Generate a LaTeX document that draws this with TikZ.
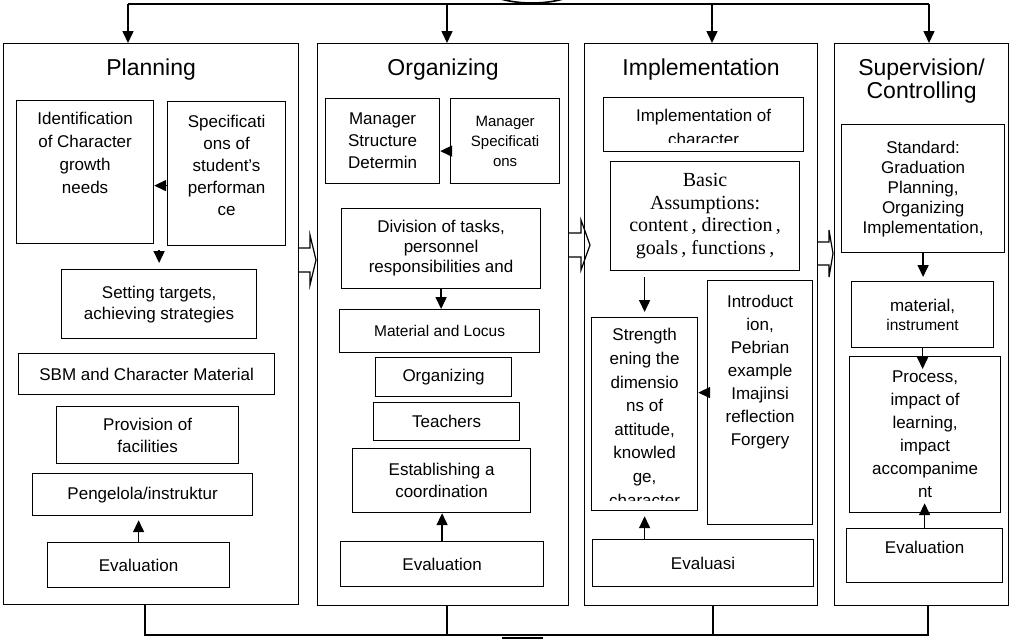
\documentclass[tikz,border=0pt]{standalone}
\usepackage{fontspec}
\setmainfont{Liberation Sans}
\newfontfamily\timesfont{Liberation Serif}
\usetikzlibrary{positioning,calc,arrows.meta,shapes.geometric}

\begin{document}
\begin{tikzpicture}[x=1pt, y=-1pt,
                    line width=1.2pt,
                    every node/.style={inner sep=0pt},
                    col/.style={draw, anchor=north west},
                    box/.style={draw, anchor=north west, align=center,
                                font=\fontsize{17}{22}\selectfont},
                    txt/.style={align=center, font=\fontsize{17}{23}\selectfont},
                    ttl/.style={align=center, font=\fontsize{23}{23}\selectfont},
                    arr/.style={-{Triangle[length=12pt,width=11pt]}, line width=1.6pt}]

  \useasboundingbox (0,0) rectangle (1011,638);
  \clip (0,0) rectangle (1011,638);

  % Planning
  \node[col, minimum width=295, minimum height=561] (plan) at (3,43) {};
  \node[ttl, below=15pt of plan.north] (plant) {Planning};
  \node[box, minimum width=137, minimum height=143] (ident) at (16,100) {};
  \node[txt, below=12pt of ident.north] (identt) {Identification\\of Character\\growth\\needs};
  \node[box, minimum width=118, minimum height=144] (spec) at (167,101) {};
  \node[txt, font=\fontsize{17}{22}\selectfont, below=14pt of spec.north] (spect) {Specificati\\ons of\\student's\\performan\\ce};
  \node[box, minimum width=195, minimum height=69, font=\fontsize{17}{21}\selectfont] (setting) at (61,269) {Setting targets,\\achieving strategies};
  \node[box, minimum width=256, minimum height=41] (sbm) at (18,353) {SBM and Character Material};
  \node[box, minimum width=182, minimum height=57] (prov) at (56,406) {Provision of\\facilities};
  \node[box, minimum width=220, minimum height=42] (peng) at (32,473) {Pengelola/instruktur};
  \node[box, minimum width=182, minimum height=45] (evalp) at (47,542) {Evaluation};

  % Organizing
  \node[col, minimum width=251, minimum height=562] (org) at (317,43) {};
  \node[ttl, below=15pt of org.north] (orgt) {Organizing};
  \node[box, minimum width=114, minimum height=85] (mstruct) at (325,98) {Manager\\Structure\\Determin};
  \node[box, minimum width=109, minimum height=85, font=\fontsize{15}{20}\selectfont] (mspec) at (450,98) {Manager\\Specificati\\ons};
  \node[box, minimum width=199, minimum height=80] (div) at (341,208) {};
  \node[txt, font=\fontsize{17}{20}\selectfont, below=12pt of div.north] (divt) {Division of tasks,\\personnel\\responsibilities and};
  \node[box, minimum width=200, minimum height=43, font=\fontsize{15.5}{20}\selectfont] (mat) at (339,309) {Material and Locus};
  \node[box, minimum width=136, minimum height=39] (orgz) at (375,357) {Organizing};
  \node[box, minimum width=146, minimum height=38] (teach) at (373,402) {Teachers};
  \node[box, minimum width=178, minimum height=64] (estab) at (352,448) {Establishing a\\coordination};
  \node[box, minimum width=203, minimum height=45] (evalo) at (340,541) {Evaluation};

  % Implementation
  \node[col, minimum width=233, minimum height=562] (impl) at (584,43) {};
  \node[ttl, below=15pt of impl.north] (implt) {Implementation};
  \node[box, minimum width=200, minimum height=54] (ichar) at (603,97) {};
  \begin{scope}
    \clip (ichar.north west) rectangle ($(ichar.north east)+(0,45)$);
    \node[txt, font=\fontsize{17}{24}\selectfont, below=12pt of ichar.north] (ichart) {Implementation of\\character};
  \end{scope}
  \node[box, minimum width=189, minimum height=109, font=\timesfont\fontsize{20}{22.5}\selectfont] (basic) at (610,161) {Basic\\Assumptions:\\content\,, direction\,,\\goals\,, functions\,,};
  \node[box, minimum width=106, minimum height=193] (strength) at (591,317) {};
  \begin{scope}
    \clip (strength.north west) rectangle ($(strength.north east)+(0,183)$);
    \node[txt, font=\fontsize{17}{23.6}\selectfont, below=11pt of strength.north] (strengtht) {Strength\\ening the\\dimensio\\ns of\\attitude,\\knowled\\ge,\\character};
  \end{scope}
  \node[box, minimum width=105, minimum height=244] (intro) at (707,280) {};
  \node[txt, below=15pt of intro.north] (introt) {Introduct\\ion,\\Pebrian\\example\\Imajinsi\\reflection\\Forgery};
  \node[box, minimum width=221, minimum height=47] (evali) at (592,539) {Evaluasi};

  % Supervision
  \node[col, minimum width=174, minimum height=562] (sup) at (834,43) {};
  \node[ttl, below=15pt of sup.north] (supt) {Supervision/\\Controlling};
  \node[box, minimum width=163, minimum height=128, font=\fontsize{17}{20}\selectfont] (std) at (841,124) {Standard:\\Graduation\\Planning,\\Organizing\\Implementation,};
  \node[box, minimum width=142, minimum height=66, font=\fontsize{17}{19}\selectfont] (smat) at (851,281) {material,\\{\fontsize{15.5}{19}\selectfont instrument}};
  \node[box, minimum width=151, minimum height=156] (proc) at (849,356) {};
  \node[txt, below=14pt of proc.north] (proct) {Process,\\impact of\\learning,\\impact\\accompanime\\nt};
  \node[box, minimum width=156, minimum height=54] (evals) at (846,528) {};
  \node[txt, below=13pt of evals.north] (evalst) {Evaluation};

  % hollow arrows between the stages
  \coordinate (p2o) at (298,260);
  \coordinate (o2i) at (568,245);
  \coordinate (i2s) at (818,253.5);
  \draw (p2o) ++(0,-12) -- ++(12,0) -- ++(0,-13) -- ++(6,25) -- ++(-6,25) -- ++(0,-13) -- ++(-12,0);
  \draw (o2i) ++(0,-12) -- ++(13,0) -- ++(0,-13) -- ++(9,25) -- ++(-9,25) -- ++(0,-13) -- ++(-13,0);
  \draw (i2s) ++(0,-11.5) -- ++(11,0) -- ++(0,-12) -- ++(4,23.5) -- ++(-4,23.5) -- ++(0,-12) -- ++(-11,0);

  % partly visible shapes above and below
  \node[draw, ellipse, line width=1.6pt, minimum width=104, minimum height=40] (goal) at (532,-17) {};
  \node[draw, line width=2pt, minimum width=39, minimum height=30, anchor=north] (result) at (522,636.5) {};

  % top distribution
  \coordinate (t1) at (128,4);
  \coordinate (t2) at (447,4);
  \coordinate (t3) at (712,4);
  \coordinate (t4) at (929,4);
  \draw (t1) -- (t4);
  \draw[arr] (t1) -- (t1 |- plan.north);
  \draw[arr] (t2) -- (t2 |- org.north);
  \draw[arr] (t3) -- (t3 |- impl.north);
  \draw[arr] (t4) -- (t4 |- sup.north);

  % bottom collection
  \coordinate (b1) at (145,635);
  \coordinate (b2) at (447,635);
  \coordinate (b3) at (713,635);
  \coordinate (b4) at (928,635);
  \draw (b1 |- plan.south) -- (b1) -- (b4) -- (b4 |- sup.south);
  \draw (b2 |- org.south) -- (b2);
  \draw (b3 |- impl.south) -- (b3);

  % arrows inside the stages
  \draw[arr] ($(spec.west)+(0,12)$) -- ($(ident.east |- spec.west)+(0,12)$);
  \draw[arr] ($(setting.north |- ident.south)+(0,6)$) -- ($(setting.north)+(0,-6)$);
  \draw[arr] (evalp.north) -- ($(evalp.north |- peng.south)+(0,4)$);
  \draw[arr] ($(mspec.west)+(0,10)$) -- ($(mstruct.east |- mspec.west)+(0,10)$);
  \draw[arr] (div.south) -- (div.south |- mat.north);
  \draw[arr] (evalo.north) -- (evalo.north |- estab.south);
  \draw[arr] ($(strength.north |- basic.south)+(0,6)$) -- ($(strength.north)+(0,-5)$);
  \draw[arr] ($(intro.west)+(0,-10)$) -- ($(strength.east |- intro.west)+(0,-10)$);
  \draw[arr] (strength.south |- evali.north) -- ($(strength.south)+(0,5)$);
  \draw[arr] (std.south) -- ($(std.south |- smat.north)+(0,-4)$);
  \draw[arr] (smat.south) -- ($(smat.south |- proc.north)+(0,13)$);
  \draw[arr] (evals.north) -- ($(evals.north |- proc.south)+(0,-10)$);
\end{tikzpicture}
\end{document}
